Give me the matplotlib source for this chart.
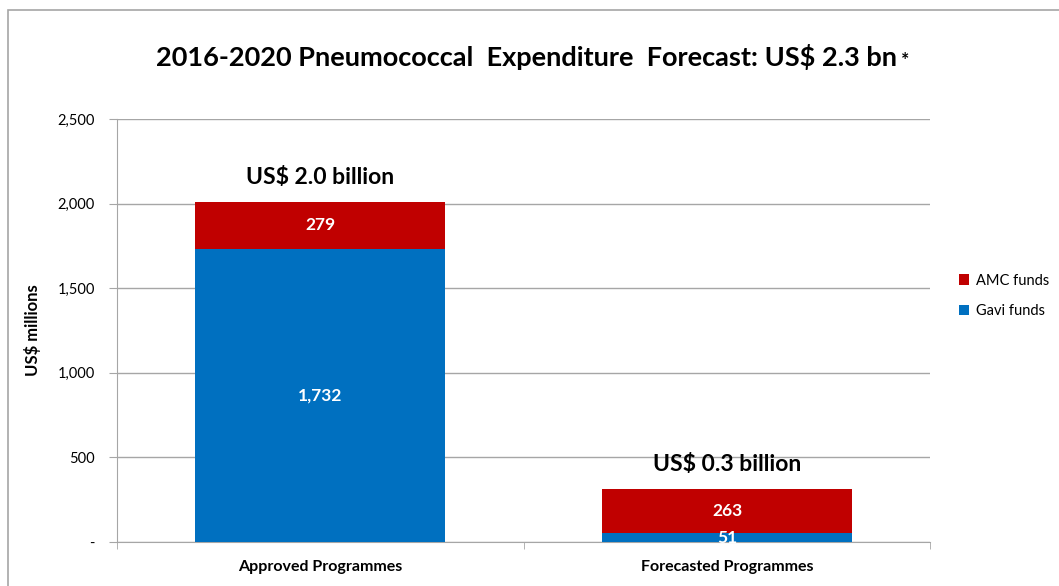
import matplotlib.pyplot as plt
from matplotlib.patches import Rectangle

plt.rcParams['font.family'] = ['Lato', 'DejaVu Sans']

# Données
programmes = ["Approved Programmes", "Forecasted Programmes"]
gavi = [1732, 51]
amc = [279, 263]
totaux = ["US$ 2.0 billion", "US$ 0.3 billion"]
gavi_labels = ["1,732", "51"]
amc_labels = ["279", "263"]

fig = plt.figure(figsize=(10.59, 5.86), dpi=100)
ax = fig.add_axes([0.1105, 0.0751, 0.768, 0.722])

# cadre gris autour du graphique
fig.patches.append(Rectangle((8 / 1059, -0.1), 1.2, 1 - 10 / 586 + 0.1,
                             transform=fig.transFigure, fill=False,
                             edgecolor="#a6a6a6", linewidth=1.2))

x = range(len(programmes))
b1 = ax.bar(x, gavi, width=0.615, color="#0070C0", label="Gavi funds", zorder=3)
b2 = ax.bar(x, amc, width=0.615, bottom=gavi, color="#C00000", label="AMC funds", zorder=3)

ax.set_xlim(-0.5, 1.5)
ax.set_ylim(0, 2500)
ax.set_yticks([0, 500, 1000, 1500, 2000, 2500])
ax.set_yticklabels(["-", "500", "1,000", "1,500", "2,000", "2,500"], fontsize=10.5)
ax.yaxis.grid(True, color="#a6a6a6", linewidth=1, zorder=0)
ax.set_xticks([0, 1])
ax.set_xticklabels(programmes, fontsize=11.5, fontweight="bold")
ax.set_xticks([-0.5, 0.5, 1.5], minor=True)
ax.tick_params(axis="x", which="major", length=0, pad=13)
ax.tick_params(axis="x", which="minor", length=5, color="#a6a6a6")
ax.tick_params(axis="y", length=6, color="#a6a6a6", pad=10)
for s in ["top", "right"]:
    ax.spines[s].set_visible(False)
for s in ["left", "bottom"]:
    ax.spines[s].set_color("#a6a6a6")

ax.set_ylabel("US$ millions", fontsize=12, fontweight="bold", labelpad=12)

# étiquettes des barres
ax.bar_label(b1, labels=gavi_labels, label_type="center", color="white",
             fontsize=12.5, fontweight="bold")
ax.bar_label(b2, labels=amc_labels, label_type="center", color="white",
             fontsize=12.5, fontweight="bold")
for i in x:
    ax.annotate(totaux[i], (i, gavi[i] + amc[i]), xytext=(0, 10),
                textcoords="offset points", ha="center", va="bottom",
                fontsize=16.5, fontweight="bold")

fig.text(0.497, 0.902, "2016-2020 Pneumococcal  Expenditure  Forecast: US$ 2.3 bn",
         ha="center", va="center", fontsize=19.5, fontweight="bold")
fig.text(0.851, 0.897, "*", ha="left", va="center", fontsize=14, fontweight="bold")

h, l = ax.get_legend_handles_labels()
fig.legend(h[::-1], l[::-1], loc="center left", bbox_to_anchor=(0.893, 0.495),
           frameon=False, fontsize=10.5, handlelength=0.7, handleheight=0.7,
           handletextpad=0.5, labelspacing=1.15)

fig.savefig("out.png", dpi=100)
